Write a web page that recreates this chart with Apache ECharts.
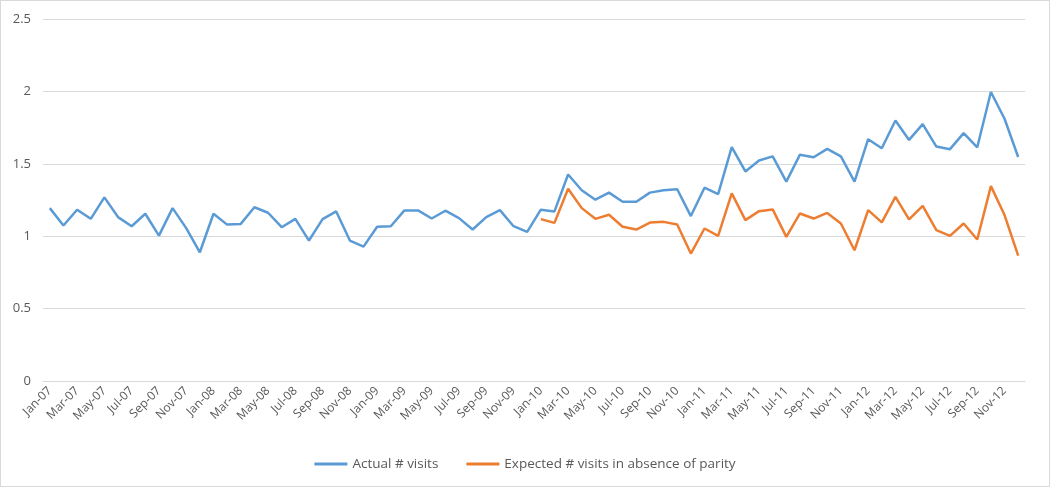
<!DOCTYPE html>
<html>
<head>
<meta charset="utf-8">
<script src="https://cdn.jsdelivr.net/npm/echarts@6/dist/echarts.min.js"></script>
<style>
html,body{margin:0;padding:0;background:#fff;}
#c{width:1048px;height:485px;border:1px solid #d9d9d9;}
</style>
</head>
<body>
<div id="c"></div>
<script>
const months = ['Jan','Feb','Mar','Apr','May','Jun','Jul','Aug','Sep','Oct','Nov','Dec'];
const years = ['07','08','09','10','11','12'];
const categories = [];
years.forEach(y => months.forEach(m => categories.push(m + '-' + y)));

const actualVisits = [
  1.194, 1.074, 1.183, 1.12, 1.268, 1.132, 1.069, 1.155, 1.004, 1.194, 1.056, 0.889,
  1.155, 1.08, 1.085, 1.2, 1.162, 1.062, 1.12, 0.97, 1.118, 1.171, 0.97, 0.928,
  1.065, 1.069, 1.178, 1.178, 1.122, 1.176, 1.125, 1.046, 1.132, 1.18, 1.069, 1.03,
  1.183, 1.171, 1.426, 1.317, 1.252, 1.301, 1.238, 1.238, 1.301, 1.317, 1.324, 1.139,
  1.335, 1.291, 1.615, 1.447, 1.523, 1.551, 1.377, 1.563, 1.545, 1.603, 1.551, 1.377,
  1.67, 1.607, 1.799, 1.665, 1.774, 1.619, 1.601, 1.712, 1.614, 1.996, 1.811, 1.547
];
const expectedVisits = [
  null, null, null, null, null, null, null, null, null, null, null, null,
  null, null, null, null, null, null, null, null, null, null, null, null,
  null, null, null, null, null, null, null, null, null, null, null, null,
  1.118, 1.092, 1.328, 1.194, 1.12, 1.148, 1.065, 1.046, 1.094, 1.099, 1.081, 0.88,
  1.053, 1.002, 1.296, 1.111, 1.173, 1.185, 0.995, 1.157, 1.122, 1.161, 1.088, 0.903,
  1.18, 1.095, 1.272, 1.116, 1.21, 1.042, 1.002, 1.088, 0.977, 1.346, 1.146, 0.866
];
const yTicks = [0, 0.5, 1, 1.5, 2, 2.5];

const font = '"Open Sans", "Noto Sans", sans-serif';
const chart = echarts.init(document.getElementById('c'));
chart.setOption({
  animation: false,
  textStyle: { fontFamily: font },
  grid: { left: 42, right: 24, top: 18, bottom: 105 },
  legend: {
    bottom: 10,
    left: 'center',
    itemWidth: 33,
    itemHeight: 3,
    itemGap: 28,
    icon: 'rect',
    textStyle: { color: '#595959', fontSize: 13.5, fontFamily: font },
    data: ['Actual # visits', 'Expected # visits in absence of parity']
  },
  xAxis: {
    type: 'category',
    data: categories,
    boundaryGap: true,
    axisLine: { lineStyle: { color: '#d9d9d9' } },
    axisTick: { show: false },
    axisLabel: {
      interval: 1,
      rotate: 45,
      color: '#595959',
      fontSize: 12,
      margin: 8,
      fontFamily: font
    }
  },
  yAxis: {
    type: 'value',
    min: 0,
    max: 2.5,
    interval: 0.5,
    axisLine: { show: false },
    axisTick: { show: false },
    splitLine: { lineStyle: { color: '#d9d9d9' } },
    axisLabel: {
      color: '#595959',
      fontSize: 13,
      margin: 12,
      fontFamily: font,
      formatter: v => yTicks.includes(v) ? String(v) : ''
    }
  },
  series: [
    {
      name: 'Actual # visits',
      type: 'line',
      data: actualVisits,
      symbol: 'none',
      lineStyle: { color: '#5B9BD5', width: 2.5 },
      itemStyle: { color: '#5B9BD5' }
    },
    {
      name: 'Expected # visits in absence of parity',
      type: 'line',
      data: expectedVisits,
      symbol: 'none',
      lineStyle: { color: '#ED7D31', width: 2.5 },
      itemStyle: { color: '#ED7D31' }
    }
  ]
});
</script>
</body>
</html>
